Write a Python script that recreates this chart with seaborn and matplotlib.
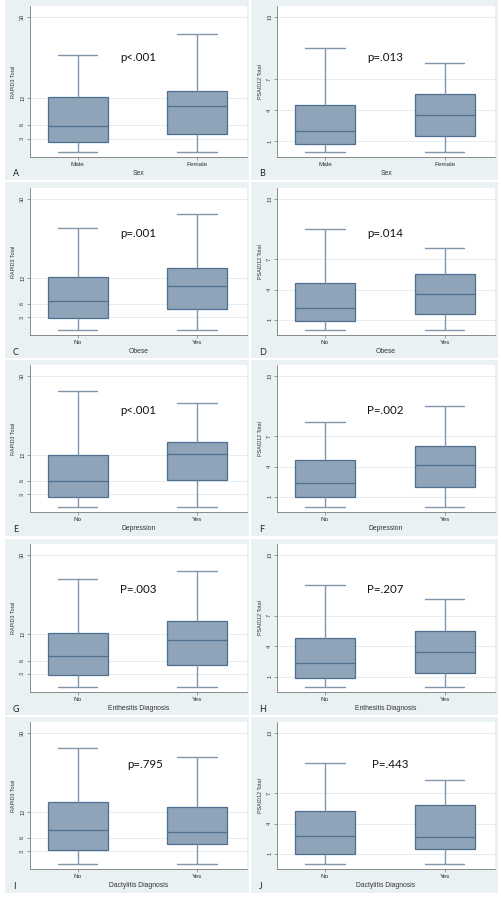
import numpy as np
import pandas as pd
import matplotlib
matplotlib.use("Agg")
import matplotlib.pyplot as plt
from matplotlib.patches import Rectangle
import seaborn as sns

# ---- data: five-number summaries (min, Q1, median, Q3, max) ----
row_xlabels = ["Sex", "Obese", "Depression", "Enthesitis Diagnosis", "Dactylitis Diagnosis"]
row_groups = [["Male", "Female"], ["No", "Yes"], ["No", "Yes"], ["No", "Yes"], ["No", "Yes"]]

rapid3_g1 = [[0, 2.3, 5.7, 12.2, 21.5],
             [0, 2.7, 6.6, 12.2, 23.2],
             [0, 2.3, 6.0, 11.9, 26.4],
             [0, 2.7, 7.0, 12.3, 24.4],
             [0, 3.3, 7.7, 14.1, 26.4]]
rapid3_g2 = [[0, 4.0, 10.2, 13.6, 26.2],
             [0, 4.9, 10.1, 14.2, 26.4],
             [0, 6.2, 12.2, 14.9, 23.8],
             [0, 5.1, 10.7, 14.9, 26.4],
             [0, 4.7, 7.4, 13.1, 24.4]]
psaid12_g1 = [[0, 0.8, 2.0, 4.5, 10.0],
              [0, 0.9, 2.2, 4.6, 10.0],
              [0, 1.0, 2.4, 4.6, 8.4],
              [0, 0.9, 2.4, 4.8, 10.0],
              [0, 1.0, 2.8, 5.2, 10.0]]
psaid12_g2 = [[0, 1.5, 3.5, 5.6, 8.6],
              [0, 1.6, 3.6, 5.5, 8.1],
              [0, 2.0, 4.2, 6.0, 10.0],
              [0, 1.4, 3.4, 5.5, 8.6],
              [0, 1.5, 2.7, 5.8, 8.3]]

p_rapid3 = ["p<.001", "p=.001", "p<.001", "P=.003", "p=.795"]
p_psaid12 = ["p=.013", "p=.014", "P=.002", "P=.207", "P=.443"]
letters_left = ["A", "C", "E", "G", "I"]
letters_right = ["B", "D", "F", "H", "J"]

rapid3_ticks = [3, 6, 12, 30]
psaid12_ticks = [1, 4, 7, 13]

# ---- style ----
BG = "#eaf1f3"
BOX = "#8fa4b9"
EDGE = "#4f6f8f"
WHISK = "#8097ae"
GRID = "#e6eef1"

sns.set_theme(style="white")
plt.rcParams["font.family"] = ["Liberation Sans", "DejaVu Sans"]

W, H = 502, 897
fig = plt.figure(figsize=(W / 100, H / 100), dpi=100)
fig.patch.set_facecolor("white")

col_ax = [(30, 247), (277, 495)]
col_bg = [(5, 249), (251, 498)]
row_ax = [(6, 157), (188, 335), (365, 512), (544, 692), (722, 869)]
row_bg = [(0, 180), (182, 358), (360, 536), (539, 715), (717, 893)]
p_pos_y = [0.66, 0.69, 0.69, 0.69, 0.71]
p_pos_x = [[0.50, 0.495], [0.50, 0.495], [0.50, 0.495], [0.50, 0.495], [0.53, 0.52]]


def px_rect(x0, x1, y0, y1):
    return [x0 / W, 1 - y1 / H, (x1 - x0) / W, (y1 - y0) / H]


def draw_panel(ax, groups, g1, g2, ylab, yticks, ylim, xlab, ptxt, px, py):
    df = pd.DataFrame({"group": [groups[0]] * len(g1) + [groups[1]] * len(g2),
                       "value": list(g1) + list(g2)})
    sns.boxplot(data=df, x="group", y="value", order=groups, ax=ax,
                width=0.5, whis=(0, 100), color=BOX, saturation=1,
                linecolor=EDGE, linewidth=0.9, fliersize=0,
                whiskerprops=dict(color=WHISK, linewidth=1.0),
                capprops=dict(color=WHISK, linewidth=1.0))
    # widen the whisker caps a little, Stata style
    for line in ax.lines:
        x = np.asarray(line.get_xdata(), dtype=float)
        y = np.asarray(line.get_ydata(), dtype=float)
        if len(x) == 2 and y[0] == y[1] and abs(x[1] - x[0]) < 0.4:
            c = x.mean()
            line.set_xdata(c + (x - c) * 1.32)

    ax.set_facecolor("white")
    ax.set_xlim(-0.4, 1.42)
    ax.set_ylim(*ylim)
    ax.set_yticks(yticks)
    ax.set_yticklabels([str(t) for t in yticks], rotation=90, va="center")
    ax.yaxis.grid(True, color=GRID, lw=0.7)
    ax.set_axisbelow(True)
    for s in ["top", "right"]:
        ax.spines[s].set_visible(False)
    for s in ["left", "bottom"]:
        ax.spines[s].set_color("#7a7a7a")
        ax.spines[s].set_linewidth(0.6)
    ax.tick_params(axis="both", length=2, width=0.5, color="#7a7a7a",
                   pad=1.5, labelcolor="#333333")
    ax.tick_params(axis="x", bottom=True, labelsize=4.6)
    ax.tick_params(axis="y", left=True, labelsize=4.0)
    ax.set_ylabel(ylab, fontsize=3.9, color="#333333", labelpad=3)
    ax.set_xlabel(xlab, fontsize=4.9, color="#333333", labelpad=2)
    ax.text(px, py, ptxt, transform=ax.transAxes, ha="center", va="center",
            fontsize=8.3, color="#111111", family=["Lato", "DejaVu Sans"])


for r in range(5):
    for c in range(2):
        bx0, bx1 = col_bg[c]
        by0, by1 = row_bg[r]
        fig.patches.append(Rectangle((bx0 / W, 1 - by1 / H), (bx1 - bx0) / W, (by1 - by0) / H,
                                     transform=fig.transFigure, facecolor=BG,
                                     edgecolor="none", zorder=-10))
        ax = fig.add_axes(px_rect(col_ax[c][0], col_ax[c][1], row_ax[r][0], row_ax[r][1]))
        ax.set_zorder(1)
        if c == 0:
            draw_panel(ax, row_groups[r], rapid3_g1[r], rapid3_g2[r], "RAPID3 Total",
                       rapid3_ticks, (-1.1, 32.4), row_xlabels[r], p_rapid3[r],
                       p_pos_x[r][0], p_pos_y[r])
            letter = letters_left[r]
        else:
            draw_panel(ax, row_groups[r], psaid12_g1[r], psaid12_g2[r], "PSAID12 Total",
                       psaid12_ticks, (-0.5, 14.05), row_xlabels[r], p_psaid12[r],
                       p_pos_x[r][1], p_pos_y[r])
            letter = letters_right[r]
        fig.text((bx0 + 8) / W, 1 - (row_ax[r][1] + 17) / H, letter,
                 fontsize=6.5, ha="left", va="center", color="#222222",
                 family=["Lato", "DejaVu Sans"])

fig.savefig("out.png", dpi=100)
